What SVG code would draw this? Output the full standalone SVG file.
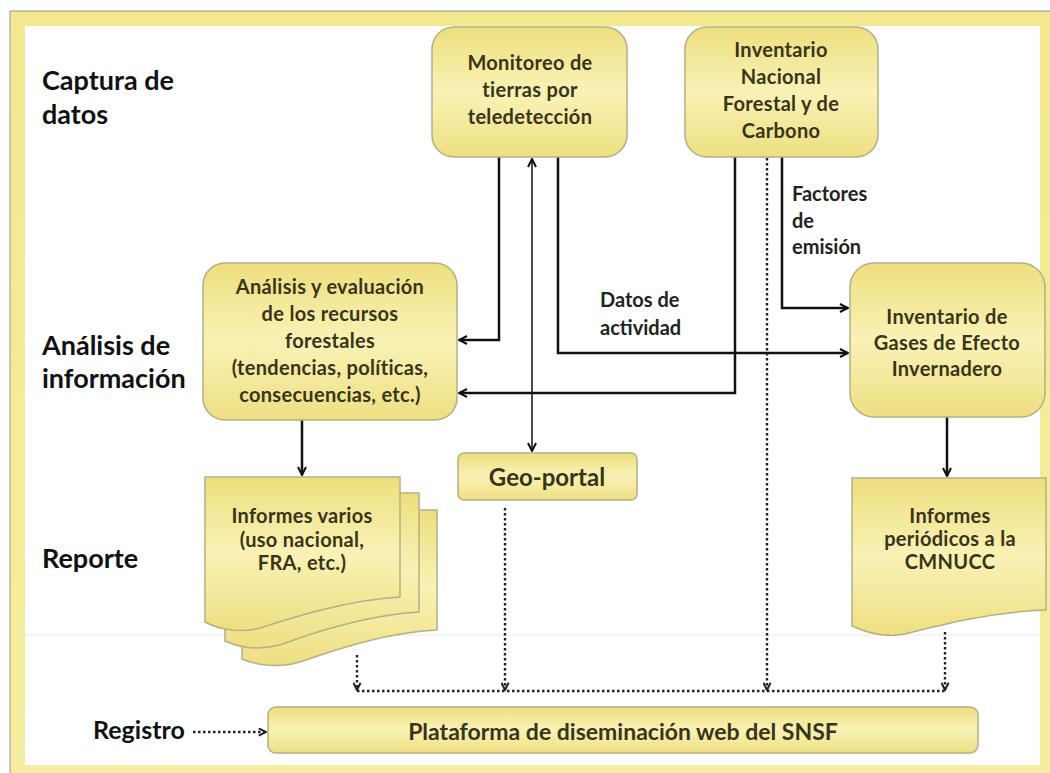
<svg xmlns="http://www.w3.org/2000/svg" width="1050" height="773" viewBox="0 0 1050 773">
<defs>
<linearGradient id="g" x1="0" y1="0" x2="0" y2="1">
<stop offset="0" stop-color="#eddf7e"/>
<stop offset="0.5" stop-color="#f9f2b6"/>
<stop offset="1" stop-color="#eedf82"/>
</linearGradient>
<linearGradient id="frame" x1="0" y1="0" x2="0" y2="1">
<stop offset="0" stop-color="#f3e88f"/>
<stop offset="1" stop-color="#f6eda0"/>
</linearGradient>
<marker id="ah" viewBox="0 0 10 10" refX="9" refY="5" markerWidth="10" markerHeight="10" markerUnits="userSpaceOnUse" orient="auto-start-reverse">
<path d="M1,1 L9,5 L1,9" fill="none" stroke="#111" stroke-width="2"/>
</marker>
<marker id="ahd" viewBox="0 0 10 10" refX="9" refY="5" markerWidth="9" markerHeight="9" markerUnits="userSpaceOnUse" orient="auto-start-reverse">
<path d="M1,1 L9,5 L1,9" fill="none" stroke="#222" stroke-width="2.2"/>
</marker>
<style>
.box{fill:url(#g);stroke:#b5ae86;stroke-width:1.5}
.nt{font-family:Lato,"Liberation Sans",sans-serif;font-weight:700;font-size:20px;letter-spacing:0.3px;fill:#3a3418;text-anchor:middle}
.lb{font-family:Lato,"Liberation Sans",sans-serif;font-weight:700;font-size:27px;fill:#111}
.cl{font-family:Lato,"Liberation Sans",sans-serif;font-weight:700;font-size:20px;fill:#222}
.s{fill:none;stroke:#111;stroke-width:2.5}
.t{fill:none;stroke:#111;stroke-width:1.5}
.d{fill:none;stroke:#222;stroke-width:2.4;stroke-dasharray:2.5 2.5}
</style>
</defs>
<rect x="0" y="0" width="1050" height="773" fill="#fff"/>
<rect x="10" y="11" width="1045" height="770" fill="url(#frame)" stroke="#9a9a8a" stroke-width="1"/>
<rect x="25" y="26" width="1015" height="739" fill="#fff"/>
<line x1="25" y1="635" x2="1040" y2="635" stroke="#f0f0ee" stroke-width="1.5"/>

<g id="labels">
<text class="lb" x="42" y="90">Captura de</text>
<text class="lb" x="42" y="124">datos</text>
<text class="lb" x="42" y="355">Análisis de</text>
<text class="lb" x="42" y="388">información</text>
<text class="lb" x="42" y="568">Reporte</text>
<text class="lb" x="93" y="739" style="font-size:25px">Registro</text>
</g>

<g id="connectors">
<path class="s" d="M499,157 V340 H459" marker-end="url(#ah)"/>
<path class="t" d="M532,159 V451" marker-start="url(#ah)" marker-end="url(#ah)"/>
<path class="s" d="M558,157 V353 H848" marker-end="url(#ah)"/>
<path class="s" d="M735,157 V393 H459" marker-end="url(#ah)"/>
<path class="s" d="M782,157 V308 H848" marker-end="url(#ah)"/>
<path class="s" d="M302,420 V475" marker-end="url(#ah)"/>
<path class="s" d="M947,417 V476" marker-end="url(#ah)"/>
<path class="d" d="M767,158 V690" marker-end="url(#ahd)"/>
<path class="d" d="M357,655 V690" marker-end="url(#ahd)"/>
<path class="d" d="M505,508 V690" marker-end="url(#ahd)"/>
<path class="d" d="M945,632 V690" marker-end="url(#ahd)"/>
<path class="d" d="M357,691 H945"/>
<path class="d" d="M193,732 H266" marker-end="url(#ahd)"/>
<text class="cl" x="600" y="307">Datos de</text>
<text class="cl" x="600" y="335">actividad</text>
<text class="cl" x="792" y="201">Factores</text>
<text class="cl" x="792" y="228">de</text>
<text class="cl" x="792" y="254">emisión</text>
</g>

<g id="monitoreo">
<rect class="box" x="432" y="27" width="195" height="130" rx="22"/>
<text class="nt" x="530" y="70">Monitoreo de</text>
<text class="nt" x="530" y="97">tierras por</text>
<text class="nt" x="530" y="124">teledetección</text>
</g>

<g id="inventario-nacional">
<rect class="box" x="685" y="27" width="193" height="130" rx="22"/>
<text class="nt" x="781" y="57">Inventario</text>
<text class="nt" x="781" y="84">Nacional</text>
<text class="nt" x="781" y="111">Forestal y de</text>
<text class="nt" x="781" y="138">Carbono</text>
</g>

<g id="analisis">
<rect class="box" x="203" y="263" width="254" height="157" rx="22"/>
<text class="nt" x="330" y="294">Análisis y evaluación</text>
<text class="nt" x="330" y="321">de los recursos</text>
<text class="nt" x="330" y="348">forestales</text>
<text class="nt" x="330" y="375">(tendencias, políticas,</text>
<text class="nt" x="330" y="402">consecuencias, etc.)</text>
</g>

<g id="inventario-gei">
<rect class="box" x="850" y="263" width="195" height="154" rx="24"/>
<text class="nt" x="947" y="324">Inventario de</text>
<text class="nt" x="947" y="350">Gases de Efecto</text>
<text class="nt" x="947" y="376">Invernadero</text>
</g>

<g id="geoportal">
<rect class="box" x="458" y="453" width="179" height="47" rx="6"/>
<text class="nt" x="547" y="486" style="font-size:24px;letter-spacing:0">Geo-portal</text>
</g>

<g id="informes-varios">
<path class="box" d="M242,510 H437 V630 C390,632 340,648 300,662 C280,668 258,666 242,659 Z"/>
<path class="box" d="M225,493 H419 V612 C370,615 320,630 280,645 C260,650 240,648 225,641 Z"/>
<path class="box" d="M205,477 H400 V597 C350,600 300,615 260,628 C240,633 220,630 205,622 Z"/>
<text class="nt" x="302" y="523">Informes varios</text>
<text class="nt" x="302" y="547">(uso nacional,</text>
<text class="nt" x="302" y="570">FRA, etc.)</text>
</g>

<g id="informes-cmnucc">
<path class="box" d="M852,478 H1046 V610 C990,612 940,625 905,634 C885,638 865,632 852,626 Z"/>
<text class="nt" x="950" y="523">Informes</text>
<text class="nt" x="950" y="546">periódicos a la</text>
<text class="nt" x="950" y="569">CMNUCC</text>
</g>

<g id="plataforma">
<rect class="box" x="268" y="707" width="710" height="46" rx="8"/>
<text class="nt" x="623" y="740" style="font-size:23px;letter-spacing:0">Plataforma de diseminación web del SNSF</text>
</g>
</svg>
